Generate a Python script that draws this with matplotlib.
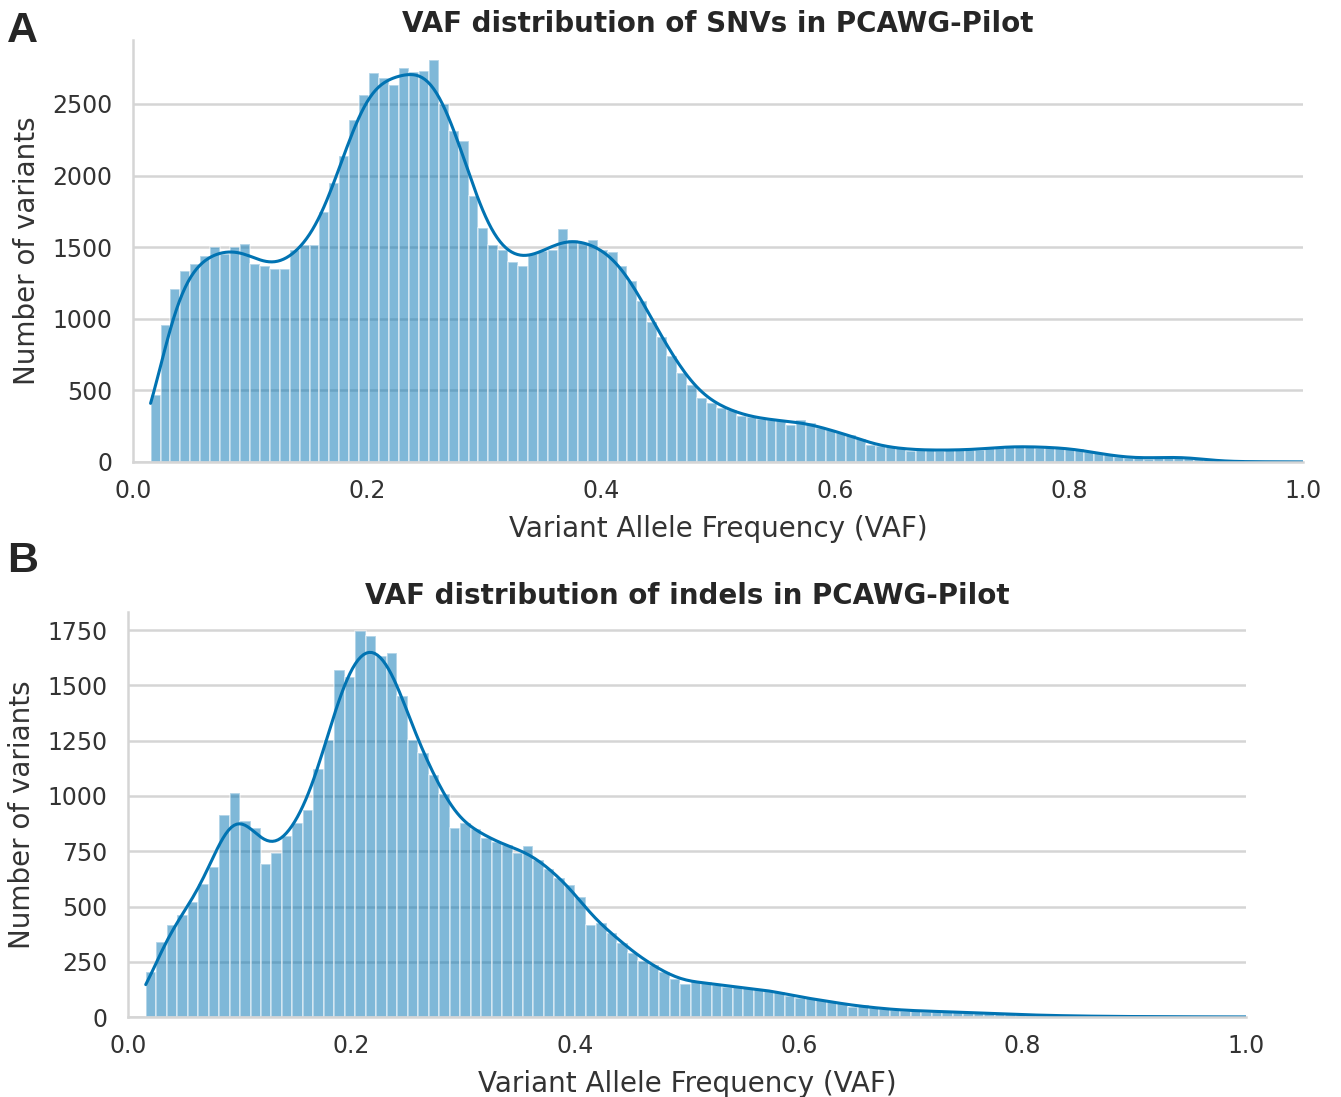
import numpy as np
import matplotlib
matplotlib.use("Agg")
import matplotlib.pyplot as plt
import seaborn as sns

# bar heights (counts per bin)
snv_counts = [466, 955, 1209, 1331, 1383, 1435, 1500, 1449, 1500, 1524,
              1383, 1371, 1348, 1348, 1477, 1515, 1515, 1745, 1947, 2136,
              2390, 2564, 2719, 2681, 2630, 2752, 2724, 2728, 2806, 2500,
              2312, 2241, 1858, 1637, 1515, 1482, 1395, 1371, 1454, 1470,
              1477, 1625, 1548, 1529, 1548, 1477, 1463, 1371, 1265, 1124,
              978, 870, 743, 619,
              540, 444, 415, 379, 362, 319, 314, 300, 295, 295,
              259, 295, 271, 235, 223, 199, 187, 163, 115, 108,
              103, 96, 74, 91, 84, 74, 86, 86, 84, 84,
              99, 106, 106, 110, 110, 99, 106, 99, 94, 89,
              70, 59, 47, 35, 28, 28, 23, 31, 35, 35,
              35, 23, 12, 5, 3, 2, 2, 1, 1, 1, 0, 0]
snv_range = (0.015, 1.0)

indel_counts = [202, 339, 418, 461, 520, 603, 679, 912, 1015, 885,
                856, 692, 740, 821, 877, 938, 1122, 1254, 1569, 1540,
                1745, 1725, 1635,
                1649, 1452, 1254, 1193, 1094, 1011, 856, 877, 851, 810,
                790, 780, 740, 772, 710, 669, 628, 597, 543, 418,
                426, 380, 334, 289, 254, 236, 202,
                172,
                150, 161, 158, 147, 138, 135, 130, 127, 119, 115,
                96, 88, 84, 76, 68, 62, 46, 53, 40, 37,
                34, 28, 31, 25, 25, 25, 22,
                20, 18, 17, 15, 13, 11, 9, 8, 7, 6,
                5, 4, 4, 3, 3, 2, 2, 2, 2, 1,
                1, 1, 1, 1, 1, 0, 1]
indel_range = (0.0158, 1.0)

titles = ["VAF distribution of SNVs in PCAWG-Pilot",
          "VAF distribution of indels in PCAWG-Pilot"]
panel_letters = ["A", "B"]

sns.set_theme(style="whitegrid")
plt.rcParams["font.family"] = ["DejaVu Sans"]
color = sns.color_palette("colorblind")[0]

fig = plt.figure(figsize=(13.41, 10.97), dpi=100)
axA = fig.add_axes([0.0992, 0.5789, 0.8725, 0.3846])
axB = fig.add_axes([0.0955, 0.0729, 0.8337, 0.3692])


def kde_counts(centers, counts, grid, bw, width):
    # weighted gaussian kde, scaled to counts like seaborn's histplot
    z = (grid[:, None] - centers[None, :]) / bw
    dens = (np.exp(-0.5 * z ** 2) * counts[None, :]).sum(axis=1)
    dens = dens / (bw * np.sqrt(2 * np.pi) * counts.sum())
    return dens * counts.sum() * width


def draw(ax, counts, rng, title, bw):
    counts = np.array(counts, dtype=float)
    edges = np.linspace(rng[0], rng[1], len(counts) + 1)
    centers = (edges[:-1] + edges[1:]) / 2
    ax.hist(centers, bins=edges, weights=counts, color=color, alpha=0.5,
            edgecolor="white", linewidth=1.2)
    grid = np.linspace(edges[0], edges[-1], 400)
    ax.plot(grid, kde_counts(centers, counts, grid, bw, edges[1] - edges[0]),
            color=color, linewidth=2.2)
    ax.set_xlim(0, 1.0)
    ax.xaxis.grid(False)
    ax.yaxis.grid(True, color="#d5d5d5", linewidth=1.8)
    ax.set_axisbelow(True)
    for s in ["top", "right"]:
        ax.spines[s].set_visible(False)
    for s in ["left", "bottom"]:
        ax.spines[s].set_color("#d5d5d5")
        ax.spines[s].set_linewidth(1.8)
    ax.tick_params(labelsize=17, colors="#333333")
    ax.tick_params(axis="x", pad=6)
    ax.tick_params(axis="y", pad=9)
    ax.set_xlabel("Variant Allele Frequency (VAF)", fontsize=20,
                  color="#333333", labelpad=9)
    ax.set_ylabel("Number of variants", fontsize=20, color="#333333",
                  labelpad=8)
    ax.set_title(title, fontsize=20, fontweight="bold", color="#262626", pad=6)


draw(axA, snv_counts, snv_range, titles[0], 0.015)
draw(axB, indel_counts, indel_range, titles[1], 0.015)

fig.text(0.005, 0.972, panel_letters[0], fontsize=31, fontweight="bold",
         family="Liberation Sans", va="center")
fig.text(0.005, 0.489, panel_letters[1], fontsize=31, fontweight="bold",
         family="Liberation Sans", va="center")

fig.savefig("out.png", dpi=100)
